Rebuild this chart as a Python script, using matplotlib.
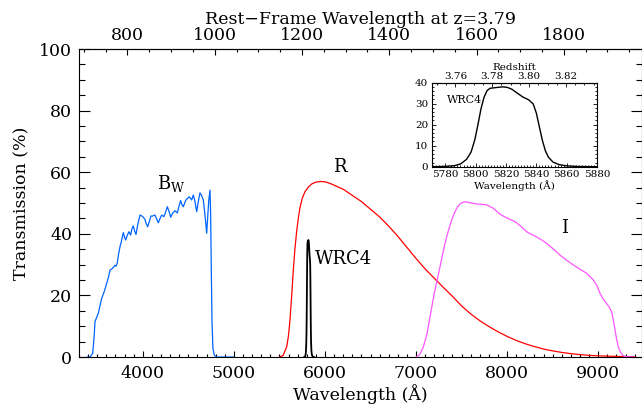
import numpy as np
import matplotlib
matplotlib.use("Agg")
import matplotlib.pyplot as plt
from matplotlib.ticker import MultipleLocator, FixedLocator

plt.rcParams['font.family'] = ['DejaVu Serif']
plt.rcParams['mathtext.fontset'] = 'dejavuserif'

# filter curves (wavelength in A, transmission in %)
bw_wave = [3390, 3421, 3450, 3465, 3476, 3512, 3549, 3580, 3604, 3625, 3640, 3660, 3677, 3695, 3706,
           3720, 3735, 3750, 3765, 3787, 3800, 3813, 3830, 3849, 3867, 3880, 3896, 3910, 3926, 3945,
           3970, 3990, 4006, 4024, 4040, 4054, 4070, 4090, 4110, 4134, 4150, 4171, 4190, 4208, 4233,
           4250, 4270, 4290, 4306, 4330, 4354, 4379, 4398, 4416, 4430, 4445, 4460, 4474, 4490, 4511,
           4525, 4537, 4555, 4570, 4592, 4610, 4628, 4645, 4665, 4680, 4702, 4712, 4725, 4738, 4745,
           4752, 4760, 4770, 4785, 4810, 5000]
bw_trans = [0, 0, 1.2, 6, 11.5, 14.2, 19, 21.5, 23.9, 26, 28.2, 28.6, 29.1, 29.8, 29.5,
            30.5, 33.5, 35.8, 37.5, 40.4, 39, 38, 39.5, 40.7, 39.6, 41.5, 42.6, 41, 39.8, 43,
            46.1, 45.8, 45.4, 44.7, 43.2, 42.3, 43.8, 45.8, 45.8, 46.1, 45, 43.6, 45, 46.1, 45.6,
            47, 48.8, 47.2, 45.4, 46.8, 47.5, 46.8, 49, 50.8, 49.5, 48.8, 50, 51, 51.5, 52,
            51.5, 51, 52.6, 51, 47.2, 50.5, 53.3, 52.5, 51, 47, 40.2, 45, 51, 54.2, 47,
            30, 12, 3, 0.6, 0, 0]

r_wave = [5500, 5540, 5580, 5600, 5616, 5635, 5652, 5670, 5690, 5710, 5726, 5750, 5781, 5820, 5854,
          5900, 5950, 6000, 6055, 6100, 6200, 6300, 6400, 6500, 6600, 6700, 6800, 6900, 7000, 7100,
          7200, 7300, 7400, 7500, 7600, 7700, 7800, 7900, 8000, 8100, 8200, 8300, 8400, 8500, 8600,
          8700, 8800, 8900, 9000, 9200, 9400]
r_trans = [0, 0.5, 3.3, 7, 12, 20, 28, 35, 41, 45.5, 48.5, 51.5, 53.7, 55.3, 56.2,
           56.8, 57, 56.9, 56.4, 55.8, 54.5, 52.5, 50.5, 48, 45.5, 42.5, 39.2, 35.6, 32, 28.6,
           25.6, 22.6, 19.7, 16.6, 14, 11.8, 9.9, 8.2, 6.7, 5.4, 4.3, 3.4, 2.6, 2.0, 1.5,
           1.1, 0.8, 0.55, 0.4, 0.2, 0.1]

i_wave = [7000, 7040, 7080, 7120, 7153, 7180, 7208, 7235, 7263, 7290, 7318, 7345, 7373, 7400, 7427,
          7455, 7482, 7510, 7537, 7565, 7592, 7630, 7666, 7720, 7775, 7810, 7848, 7885, 7921, 7975,
          8031, 8070, 8104, 8160, 8214, 8270, 8324, 8380, 8434, 8510, 8580, 8650, 8726, 8800, 8873,
          8946, 8985, 9019, 9055, 9092, 9120, 9147, 9165, 9184, 9200, 9220, 9245, 9275, 9320, 9400]
i_trans = [0, 0.8, 3.3, 7.5, 13, 17.5, 21.8, 25.5, 29.3, 33.2, 36.9, 40, 42.9, 45.3, 47.2,
           48.7, 49.7, 50.2, 50.4, 50.3, 50.1, 49.9, 49.7, 49.6, 49.4, 48.9, 48.3, 47.3, 46.4, 45.5,
           44.7, 44.2, 43.6, 42.2, 40.7, 39.8, 39, 38, 36.9, 35, 33.1, 31.5, 29.9, 28.5, 27.2,
           25, 23.2, 20.7, 18.8, 17.4, 16.2, 14.7, 12, 8.8, 6, 3.3, 1.5, 0.4, 0.05, 0]

wrc4_wave = [5771, 5780, 5786, 5790, 5794, 5797, 5799.5, 5801.5, 5803.5, 5805.5, 5807.5, 5809.5,
             5813, 5818, 5821, 5824, 5827, 5831, 5835, 5838, 5840, 5842, 5844, 5846, 5848, 5851,
             5855, 5860, 5868, 5880]
wrc4_trans = [0, 0.15, 0.5, 1.3, 3.5, 7, 13, 20, 27.5, 33, 36.2, 37.3,
              37.6, 38, 37.7, 36.8, 35.2, 33.2, 31.8, 29.8, 25.5, 19, 12.5, 7.5, 4.5, 2.2,
              1, 0.4, 0.1, 0]

rest_ticks = [800, 1000, 1200, 1400, 1600, 1800]
z_ticks = [3.76, 3.78, 3.80, 3.82]
z_src = 3.79
lya = 1215.67

fig = plt.figure(figsize=(6.42, 4.09), dpi=100)
ax = fig.add_axes([0.123, 0.127, 0.877, 0.753])

ax.plot(bw_wave, bw_trans, color='#0064ff', lw=0.9)
ax.plot(r_wave, r_trans, color='#ff0000', lw=0.9)
ax.plot(i_wave, i_trans, color='#ff55ff', lw=0.9)
ax.plot(wrc4_wave, wrc4_trans, color='black', lw=1.3)

ax.set_xlim(3300, 9480)
ax.set_ylim(0, 100)
ax.xaxis.set_major_locator(MultipleLocator(1000))
ax.xaxis.set_minor_locator(MultipleLocator(100))
ax.yaxis.set_major_locator(MultipleLocator(20))
ax.yaxis.set_minor_locator(MultipleLocator(5))
ax.tick_params(axis='x', which='major', direction='in', length=4.5, width=0.8, top=False,
               labelsize=12.5, pad=6)
ax.tick_params(axis='x', which='minor', direction='in', length=2.2, width=0.8, top=False)
ax.tick_params(axis='y', which='major', direction='in', length=8, width=0.8, right=True,
               labelsize=12.5, pad=5)
ax.tick_params(axis='y', which='minor', direction='in', length=4, width=0.8, right=True)
ax.set_xlabel('Wavelength (Å)', fontsize=12.5, labelpad=1)
ax.set_ylabel('Transmission (%)', fontsize=12.5, labelpad=6)

top = ax.secondary_xaxis('top', functions=(lambda x: x / (1 + z_src), lambda x: x * (1 + z_src)))
top.xaxis.set_major_locator(FixedLocator(rest_ticks))
top.xaxis.set_minor_locator(MultipleLocator(50))
top.tick_params(which='major', direction='in', length=4.5, width=0.8, labelsize=12.5, pad=4)
top.tick_params(which='minor', direction='in', length=2.2, width=0.8)
top.set_xlabel('Rest−Frame Wavelength at z=3.79', fontsize=12.5, labelpad=2)

ax.text(4310, 56.5, r'$\mathrm{B_W}$', fontsize=13, ha='center', va='center')
ax.text(6165, 61.7, 'R', fontsize=13, ha='center', va='center')
ax.text(5890, 32, 'WRC4', fontsize=13, ha='left', va='center')
ax.text(8635, 42, 'I', fontsize=13, ha='center', va='center')

for s in ax.spines.values():
    s.set_linewidth(0.8)

# inset: the narrow-band filter
ins = fig.add_axes([0.6724, 0.5924, 0.2575, 0.2056])
ins.plot(wrc4_wave, wrc4_trans, color='black', lw=1.0)
ins.set_xlim(5771, 5880)
ins.set_ylim(0, 40)
ins.xaxis.set_major_locator(MultipleLocator(20))
ins.xaxis.set_minor_locator(MultipleLocator(2))
ins.yaxis.set_major_locator(MultipleLocator(10))
ins.yaxis.set_minor_locator(MultipleLocator(2))
ins.tick_params(which='major', direction='in', length=3, width=0.6, right=True, top=False,
                labelsize=7.5, pad=2.5)
ins.tick_params(which='minor', direction='in', length=1.5, width=0.6, right=True, top=False)
ins.set_xlabel('Wavelength (Å)', fontsize=7.5, labelpad=1)
ins.text(5781, 31.6, 'WRC4', fontsize=8, ha='left', va='center')
for s in ins.spines.values():
    s.set_linewidth(0.8)

ztop = ins.secondary_xaxis('top', functions=(lambda x: x / lya - 1, lambda z: (z + 1) * lya))
ztop.xaxis.set_major_locator(FixedLocator(z_ticks))
ztop.xaxis.set_minor_locator(MultipleLocator(0.005))
ztop.xaxis.set_major_formatter(matplotlib.ticker.FormatStrFormatter('%.2f'))
ztop.tick_params(which='major', direction='in', length=3, width=0.6, labelsize=7.5, pad=1.5)
ztop.tick_params(which='minor', direction='in', length=1.5, width=0.6)
ztop.set_xlabel('Redshift', fontsize=7.5, labelpad=1)

fig.savefig('out.png', dpi=100)
